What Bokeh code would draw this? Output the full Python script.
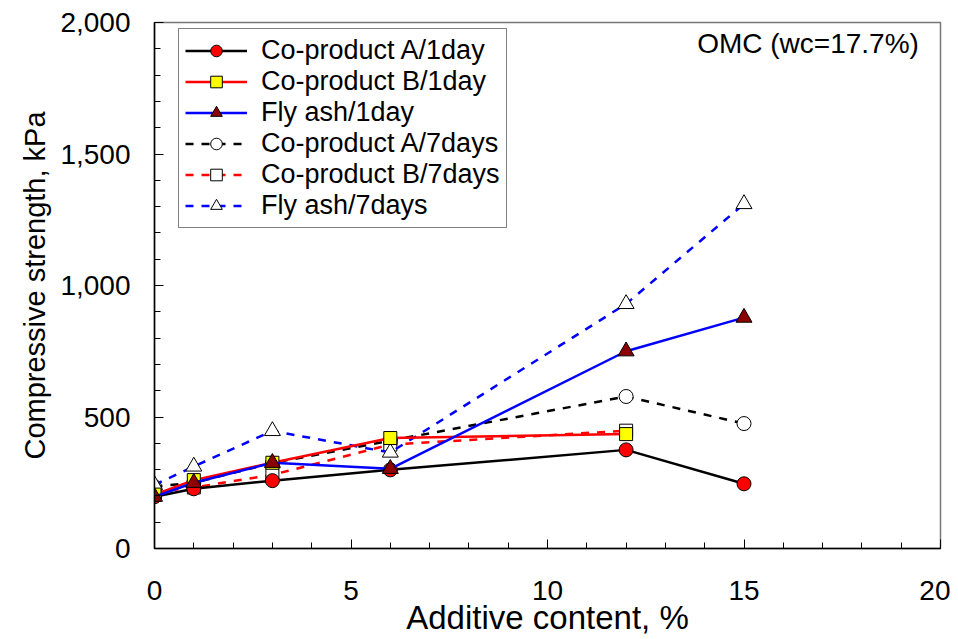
from bokeh.plotting import figure
from bokeh.models import (Legend, LegendItem, SingleIntervalTicker, NumeralTickFormatter,
                          Label, Range1d)
from bokeh.embed import file_html
from bokeh.resources import INLINE

# ---- data ----
x_a = [0, 1, 3, 6, 12, 15]
x_b = [0, 1, 3, 6, 12]
a_1day = [197, 227, 258, 299, 375, 246]
b_1day = [205, 260, 326, 420, 435]
fly_1day = [197, 250, 326, 303, 750, 878]
a_7days = [235, 250, 325, 410, 578, 475]
b_7days = [215, 232, 280, 395, 448]
fly_7days = [242, 312, 447, 365, 930, 1310]
y_ticks = [0, 500, 1000, 1500, 2000]
x_ticks = [0, 5, 10, 15, 20]

FONT = "Liberation Sans"

p = figure(width=950, height=639, output_backend="svg", toolbar_location=None,
           x_range=Range1d(0, 20), y_range=Range1d(0, 2000),
           min_border_left=154, min_border_right=10, min_border_top=22, min_border_bottom=91)
p.xgrid.visible = False
p.ygrid.visible = False
p.outline_line_color = "#777777"
p.outline_line_width = 1.5
p.background_fill_color = "white"

p.xaxis.ticker = SingleIntervalTicker(interval=5, num_minor_ticks=5)
p.yaxis.ticker = SingleIntervalTicker(interval=500, num_minor_ticks=5)
p.yaxis.formatter = NumeralTickFormatter(format="0,0")
for ax in (p.xaxis[0], p.yaxis[0]):
    ax.major_tick_in = 9
    ax.major_tick_out = 0
    ax.minor_tick_in = 6
    ax.minor_tick_out = 0
    ax.axis_line_color = "black"
    ax.axis_line_width = 1.5
    ax.major_tick_line_color = "black"
    ax.minor_tick_line_color = "black"
    ax.major_label_text_font = FONT
    ax.major_label_text_font_size = "28px"
    ax.major_label_text_color = "black"
    ax.axis_label_text_font = FONT
    ax.axis_label_text_font_style = "normal"
    ax.axis_label_text_color = "black"

p.xaxis.axis_label = "Additive content, %"
p.xaxis.axis_label_text_font_size = "33px"
p.xaxis.major_label_standoff = 32
p.xaxis.axis_label_standoff = -4
p.yaxis.axis_label = "Compressive strength, kPa"
p.yaxis.axis_label_text_font_size = "29px"
p.yaxis.major_label_standoff = 24
p.yaxis.axis_label_standoff = 6

LW = 2.5
DASH = "8 8"
SZ = 14

# 7-day series (drawn first)
la7 = p.line(x_a, a_7days, color="black", line_width=LW, line_dash=DASH)
ma7 = p.scatter(x_a, a_7days, marker="circle", size=SZ, fill_color="white", line_color="black")
lb7 = p.line(x_b, b_7days, color="red", line_width=LW, line_dash=DASH)
mb7 = p.scatter(x_b, b_7days, marker="square", size=SZ - 1, fill_color="white", line_color="black")
lf7 = p.line(x_a, fly_7days, color="blue", line_width=LW, line_dash=DASH)
mf7 = p.scatter(x_a, fly_7days, marker="triangle", size=SZ + 2, fill_color="white", line_color="black")

# 1-day series
la1 = p.line(x_a, a_1day, color="black", line_width=LW)
ma1 = p.scatter(x_a, a_1day, marker="circle", size=SZ, fill_color="red", line_color="black")
lb1 = p.line(x_b, b_1day, color="red", line_width=LW)
mb1 = p.scatter(x_b, b_1day, marker="square", size=SZ - 1, fill_color="yellow", line_color="black")
lf1 = p.line(x_a, fly_1day, color="blue", line_width=LW)
mf1 = p.scatter(x_a, fly_1day, marker="triangle", size=SZ + 2, fill_color="#8b0000", line_color="black")

legend = Legend(items=[
    LegendItem(label="Co-product A/1day", renderers=[la1, ma1]),
    LegendItem(label="Co-product B/1day", renderers=[lb1, mb1]),
    LegendItem(label="Fly ash/1day", renderers=[lf1, mf1]),
    LegendItem(label="Co-product A/7days", renderers=[la7, ma7]),
    LegendItem(label="Co-product B/7days", renderers=[lb7, mb7]),
    LegendItem(label="Fly ash/7days", renderers=[lf7, mf7]),
], location=(24, 320))
legend.label_text_font = FONT
legend.label_text_font_size = "27px"
legend.label_text_color = "black"
legend.label_height = 29
legend.label_standoff = 14
legend.glyph_height = 29
legend.glyph_width = 62
legend.spacing = 0
legend.padding = 6
legend.margin = 0
legend.border_line_color = "black"
legend.border_line_width = 1
legend.background_fill_alpha = 1
p.add_layout(legend, "center")

p.add_layout(Label(x=19.45, y=1920, text="OMC (wc=17.7%)", text_align="right",
                   text_baseline="middle", text_font=FONT, text_font_size="28px",
                   text_color="black"))

open("out.html", "w").write(file_html(p, INLINE))
